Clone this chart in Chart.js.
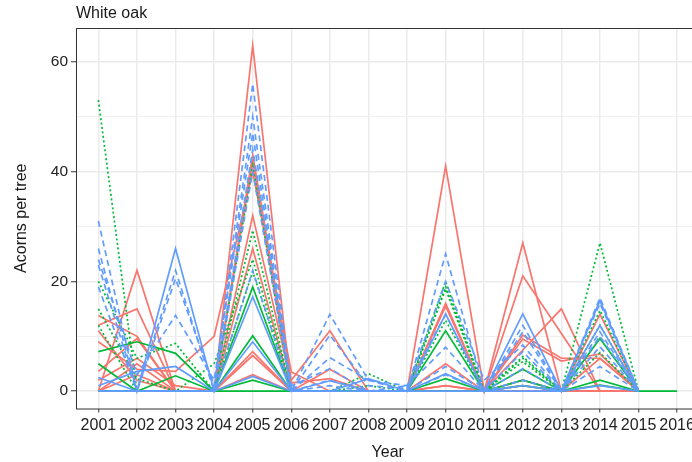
<!DOCTYPE html>
<html>
<head>
<meta charset="utf-8">
<script src="https://cdn.jsdelivr.net/npm/chart.js@4"></script>
<style>
  body { margin: 0; overflow: hidden; background: #fff; }
</style>
</head>
<body>
<canvas id="oakChart" width="700" height="462"></canvas>
<script>
    // Tahun pengamatan
    var years = [2001, 2002, 2003, 2004, 2005, 2006, 2007, 2008, 2009, 2010, 2011, 2012, 2013, 2014, 2015];
    var yearsLong = [2001, 2002, 2003, 2004, 2005, 2006, 2007, 2008, 2009, 2010, 2011, 2012, 2013, 2014, 2015, 2016];
    var yearTicks = [2001, 2002, 2003, 2004, 2005, 2006, 2007, 2008, 2009, 2010, 2011, 2012, 2013, 2014, 2015, 2016];
    var yTicks = [0, 10, 20, 30, 40, 50, 60];
    var yLabels = [0, 20, 40, 60];

    // Acorns per tree, one array per tree
    var red1 = [0, 22, 0, 0, 63, 0, 0, 0, 0, 41, 0, 27, 0, 14, 0];
    var red2 = [12, 15, 0, 0, 43, 2, 11, 0, 0, 16, 0, 21, 10.5, 0, 0];
    var red3 = [13.8, 10, 0, 0, 42, 0, 4, 0, 0, 15.5, 0, 10.2, 6, 6, 0];
    var red4 = [9, 4, 3.6, 10, 40, 3.5, 0, 0, 0, 5, 0, 9.5, 5.5, 6.8, 0];
    var red5 = [3.6, 9.6, 0, 0, 32, 1.5, 2.3, 0, 0, 1, 0, 7.5, 15, 0, 0];
    var red6 = [0, 5, 0, 0, 26, 0, 0, 0, 0, 0, 0, 2, 0, 6, 0];
    var red7 = [11, 2, 0, 0, 7.2, 0, 0, 0, 0, 0, 0, 0, 0, 0, 0];
    var red8 = [2, 6, 1, 0, 6.5, 0, 0, 0, 0, 0, 0, 1, 0, 0, 0];
    var red9 = [0, 3, 0, 0, 3, 0, 0, 0, 0, 1, 0, 0, 0, 0, 0];

    var blue1 = [31, 0, 22, 0, 56, 0, 14, 2, 0, 25, 0, 10.8, 0, 17, 0];
    var blue2 = [26, 0, 20.5, 1, 50, 0, 10.2, 1, 0.5, 20, 2, 8.4, 0, 16, 0];
    var blue3 = [24, 3, 13.8, 2, 47, 0, 6.1, 2, 1, 14, 0, 4.1, 0, 10.8, 0];
    var blue4 = [23, 0, 0, 0, 44, 1, 4.1, 0, 0, 4.5, 0, 7.2, 0, 8.1, 0];
    var blue5 = [2.5, 0, 26, 0, 17.2, 0, 1.9, 0, 0, 3.2, 0, 14.1, 0, 12, 0];
    var blue6 = [1, 3.6, 4.5, 0, 9, 0, 0, 0, 0, 14.1, 0, 1, 0, 16.5, 0];
    var blue7 = [19, 0, 0, 0, 40, 0, 1, 0, 0, 3, 0, 12, 0, 4.5, 0];
    var blue8 = [0, 0, 0, 0, 2.7, 0, 0, 2.3, 0, 0, 0, 0, 0, 1, 0];
    var blue9 = [0, 0, 0, 0, 22, 0, 2, 0, 1, 8, 0, 2, 0, 10, 0];

    var green1 = [53, 0, 0, 0, 41, 0, 0, 3.2, 0, 19, 0, 6.3, 0, 27, 0];
    var green2 = [20, 6, 8.7, 0, 29.3, 0, 0, 1, 0, 18.6, 0, 6, 0, 12, 0];
    var green3 = [12, 0, 0, 5, 24, 0, 0, 0, 0, 12.9, 0, 2, 0, 14.7, 0];
    var green4 = [15, 2.3, 0, 0, 21.8, 0, 0, 0, 0, 20, 0, 5.4, 0, 7, 0];
    var green5 = [7.2, 9, 6.9, 0, 19, 0, 0, 0, 0, 11, 0, 4, 0, 2, 0];
    var green6 = [5, 0, 2.8, 0, 10.1, 0, 0, 0, 0, 2.3, 0, 2, 0, 9.6, 0];
    var green7 = [0, 0, 0, 0, 2, 0, 0, 0, 0, 0, 0, 1, 0, 1.1, 0];
    var green8 = [0, 0, 0, 0, 0, 0, 0, 0, 0, 0, 0, 0, 0, 0, 0, 0];

    var RED = "#F8766D", GREEN = "#00BA38", BLUE = "#619CFF";
    var SOLID = [], DASHED = [6, 4], DOTTED = [2, 2.5];

    var trees = [
        { v: blue1, c: BLUE, d: DASHED }, { v: blue2, c: BLUE, d: DASHED },
        { v: blue3, c: BLUE, d: DASHED }, { v: blue4, c: BLUE, d: DASHED },
        { v: blue5, c: BLUE, d: SOLID }, { v: blue6, c: BLUE, d: SOLID },
        { v: blue7, c: BLUE, d: DASHED }, { v: blue8, c: BLUE, d: SOLID },
        { v: blue9, c: BLUE, d: DASHED },
        { v: green1, c: GREEN, d: DOTTED }, { v: green2, c: GREEN, d: DOTTED },
        { v: green3, c: GREEN, d: DOTTED }, { v: green4, c: GREEN, d: DOTTED },
        { v: green5, c: GREEN, d: SOLID }, { v: green6, c: GREEN, d: SOLID },
        { v: green7, c: GREEN, d: SOLID },
        { v: red1, c: RED, d: SOLID }, { v: red2, c: RED, d: SOLID },
        { v: red3, c: RED, d: SOLID }, { v: red4, c: RED, d: SOLID },
        { v: red5, c: RED, d: SOLID }, { v: red6, c: RED, d: SOLID },
        { v: red7, c: RED, d: SOLID }, { v: red8, c: RED, d: SOLID },
        { v: red9, c: RED, d: SOLID },
        { v: green8, c: GREEN, d: SOLID, yrs: yearsLong }
    ];

    var datasets = trees.map(function (t) {
        var yrs = t.yrs || years;
        return {
            data: t.v.map(function (val, i) { return { x: yrs[i], y: val }; }),
            borderColor: t.c,
            borderDash: t.d,
            borderWidth: 1.7,
            pointRadius: 0,
            tension: 0,
            fill: false
        };
    });

    var FONT = "'Liberation Sans', Arial, Helvetica, sans-serif";

    var panelBorder = {
        id: "panelBorder",
        afterDraw: function (chart) {
            var a = chart.chartArea, ctx = chart.ctx;
            ctx.save();
            ctx.strokeStyle = "#333333";
            ctx.lineWidth = 1;
            ctx.strokeRect(a.left + 0.5, a.top + 0.5, a.right - a.left, a.bottom - a.top);
            ctx.restore();
        }
    };

    var ctx = document.getElementById("oakChart").getContext("2d");
    var chart = new Chart(ctx, {
        type: "line",
        data: { datasets: datasets },
        plugins: [panelBorder],
        options: {
            responsive: false,
            animation: false,
            layout: { padding: { top: 0, right: 0.5, bottom: 0, left: 0 } },
            plugins: {
                legend: { display: false },
                tooltip: { enabled: false },
                title: {
                    display: true,
                    text: "White oak",
                    align: "start",
                    fullSize: false,
                    color: "#1a1a1a",
                    font: { family: FONT, size: 16, weight: "normal" },
                    padding: { top: 3.5, bottom: 5.3 }
                }
            },
            scales: {
                x: {
                    type: "linear",
                    min: 2000.42,
                    max: 2016.58,
                    afterBuildTicks: function (s) { s.ticks = yearTicks.map(function (v) { return { value: v }; }); },
                    afterFit: function (s) { s.height = 53.5; },
                    ticks: {
                        color: "#222",
                        font: { family: FONT, size: 16 },
                        padding: 3,
                        maxRotation: 0,
                        autoSkip: false,
                        callback: function (v) { return String(v); }
                    },
                    grid: { color: "#ebebeb", lineWidth: 1.5, tickColor: "#333", tickLength: 4, tickWidth: 1 },
                    border: { display: false },
                    title: {
                        display: true,
                        text: "Year",
                        color: "#1a1a1a",
                        font: { family: FONT, size: 16 },
                        padding: { top: 0, bottom: 0 }
                    }
                },
                y: {
                    min: -3.15,
                    max: 66.15,
                    afterBuildTicks: function (s) { s.ticks = yTicks.map(function (v) { return { value: v }; }); },
                    afterFit: function (s) { s.width = 76; },
                    ticks: {
                        color: "#222",
                        font: { family: FONT, size: 15.5 },
                        padding: 3,
                        callback: function (v) { return yLabels.indexOf(v) >= 0 ? String(v) : ""; }
                    },
                    grid: {
                        color: "#ebebeb",
                        lineWidth: function (c) { return yLabels.indexOf(c.tick.value) >= 0 ? 1.5 : 0.8; },
                        tickColor: function (c) { return yLabels.indexOf(c.tick.value) >= 0 ? "#333" : "rgba(0,0,0,0)"; },
                        tickLength: 5,
                        tickWidth: 1
                    },
                    border: { display: false },
                    title: {
                        display: true,
                        text: "Acorns per tree",
                        color: "#1a1a1a",
                        font: { family: FONT, size: 16 },
                        padding: { top: 12.4, bottom: 0 }
                    }
                }
            }
        }
    });
</script>
</body>
</html>
